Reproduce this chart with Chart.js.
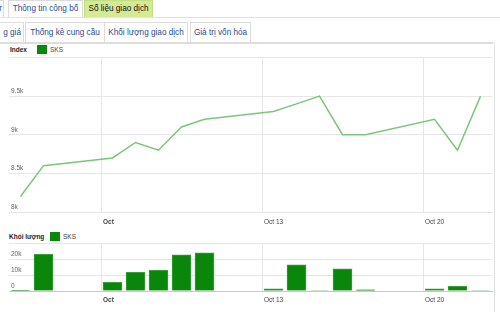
<!DOCTYPE html>
<html>
<head>
<meta charset="utf-8">
<script src="https://cdn.jsdelivr.net/npm/chart.js@4.4.1/dist/chart.umd.min.js"></script>
<style>
  html, body { margin: 0; padding: 0; background: #fff; }
  body { width: 500px; height: 312px; position: relative; overflow: hidden; font-family: "Liberation Sans", Arial, sans-serif; }
  .tab { position: absolute; box-sizing: border-box; border: 1px solid #dcdcdc; border-bottom: none; background: #fff;
         color: #2b4c8c; font-size: 8.2px; line-height: 15px; text-align: center; white-space: nowrap; }
  .tab.on { background: #d5ea96; border-color: #c4dc84; color: #111; }
  .row2 { top: 22px; height: 20px; line-height: 19px; }
  .hline { position: absolute; left: 0; height: 0; }
  .leg { position: absolute; font-family: "Liberation Sans", Arial, sans-serif; font-size: 6.5px; color: #444; }
  .leg b { color: #222; }
  .box { position: absolute; width: 10px; height: 9px; background: #0a870a; }
  canvas { position: absolute; left: 0; }
</style>
</head>
<body>
  <div class="tab" style="left:-20px;top:0;width:24px;height:17px;text-align:right;padding-right:1px;">r</div>
  <div class="tab" style="left:8px;top:0;width:75px;height:17px;">Thông tin công bố</div>
  <div class="tab on" style="left:84px;top:0;width:69px;height:17px;">Số liệu giao dịch</div>
  <div class="hline" style="top:17px;width:500px;border-top:1px solid #e2e2e2;"></div>

  <div class="tab row2" style="left:-10px;width:34px;text-align:right;padding-right:2px;">g giá</div>
  <div class="tab row2" style="left:25px;width:80px;">Thống kê cung cầu</div>
  <div class="tab row2" style="left:104px;width:84px;">Khối lượng giao dịch</div>
  <div class="tab row2" style="left:190px;width:61px;">Giá trị vốn hóa</div>
  <div class="hline" style="top:42px;width:493px;border-top:2px solid #dddddd;"></div>
  <div style="position:absolute;left:494px;top:42px;width:0;height:270px;border-left:1px solid #e2e2e2;"></div>

  <div class="leg" style="left:10px;top:46px;"><b>Index</b></div>
  <div class="box" style="left:37px;top:45px;"></div>
  <div class="leg" style="left:50px;top:46px;">SKS</div>

  <div class="leg" style="left:9px;top:233px;"><b>Khối lượng</b></div>
  <div class="box" style="left:50px;top:232px;"></div>
  <div class="leg" style="left:63px;top:233px;">SKS</div>

  <canvas id="priceChart" style="top:44px;"></canvas>
  <canvas id="volChart" style="top:228px;"></canvas>

<script>
// trading days in October (x position = day + 0.5, i.e. noon)
const days = [2, 3, 6, 7, 8, 9, 10, 13, 14, 15, 16, 17, 20, 21, 22];
const index = [8200, 8600, 8700, 8900, 8800, 9100, 9200, 9300, 9400, 9500, 9000, 9000, 9200, 8800, 9500];
const volume = [500, 23000, 5500, 11800, 13000, 22800, 24000, 1300, 16500, 300, 14000, 700, 1300, 3000, 300];

const tickDays = [6, 13, 20];
const tickNames = ['Oct', 'Oct 13', 'Oct 20'];
const indexTicks = [8000, 8500, 9000, 9500, 10000];
const indexLabels = ['8k', '8.5k', '9k', '9.5k', ''];
const volTicks = [0, 10000, 20000, 30000];
const volLabels = ['0', '10k', '20k', ''];

const gridColor = '#e6e6e6';
const tickFont = { family: 'Liberation Sans', size: 6.5 };

function xScale(padTop) {
    return {
        type: 'linear',
        min: 2,
        max: 23,
        offset: false,
        grid: { color: gridColor, drawTicks: false, offset: false },
        border: { color: gridColor },
        afterBuildTicks: s => { s.ticks = tickDays.map(v => ({ value: v })); },
        afterFit: s => { s.height = 17; },
        ticks: {
            align: 'start',
            labelOffset: 2,
            padding: padTop,
            color: '#444',
            font: c => ({ family: 'Liberation Sans', size: 6.5, weight: c.index === 0 ? 'bold' : 'normal' }),
            callback: v => tickNames[tickDays.indexOf(v)]
        }
    };
}

function yScale(min, max, vals, labels) {
    return {
        min: min,
        max: max,
        grid: { color: gridColor, drawTicks: false },
        border: { display: false },
        afterBuildTicks: s => { s.ticks = vals.map(v => ({ value: v })); },
        afterFit: s => { s.width = 0; },
        ticks: {
            mirror: true,
            padding: 2,
            labelOffset: -5,
            color: '#666',
            font: tickFont,
            callback: v => labels[vals.indexOf(v)]
        }
    };
}

const priceCanvas = document.getElementById('priceChart');
priceCanvas.width = 500;
priceCanvas.height = 185;

new Chart(priceCanvas, {
    type: 'line',
    data: {
        datasets: [{
            label: 'SKS',
            data: days.map((d, i) => ({ x: d + 0.5, y: index[i] })),
            borderColor: '#7cc67c',
            borderWidth: 1.5,
            pointRadius: 0,
            tension: 0
        }]
    },
    options: {
        responsive: false,
        animation: false,
        layout: { padding: { left: 9, right: 8, top: 13.5, bottom: 0 } },
        plugins: { legend: { display: false }, tooltip: { enabled: false } },
        scales: {
            x: xScale(6),
            y: yScale(8000, 10000, indexTicks, indexLabels)
        }
    }
});

const volCanvas = document.getElementById('volChart');
volCanvas.width = 500;
volCanvas.height = 80;

const volX = xScale(5);
volX.border = { color: '#c8c8c8' };

new Chart(volCanvas, {
    type: 'bar',
    data: {
        datasets: [{
            label: 'SKS',
            data: days.map((d, i) => ({ x: d + 0.5, y: volume[i] })),
            backgroundColor: '#0a870a',
            borderColor: '#3c9f3c',
            borderWidth: 1,
            barThickness: 19
        }]
    },
    options: {
        responsive: false,
        animation: false,
        layout: { padding: { left: 9, right: 8, top: 15.3, bottom: 0 } },
        plugins: { legend: { display: false }, tooltip: { enabled: false } },
        scales: {
            x: volX,
            y: yScale(0, 30000, volTicks, volLabels)
        }
    }
});
</script>
</body>
</html>
